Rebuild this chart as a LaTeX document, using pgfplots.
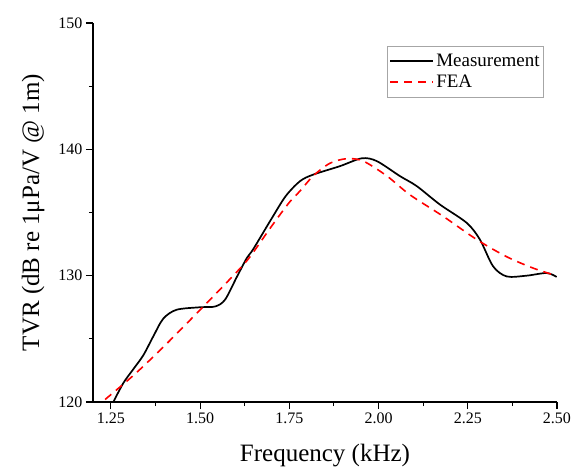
\documentclass[border=0pt]{standalone}
\usepackage{fontspec}
\setmainfont{Liberation Serif}
\setsansfont{Liberation Serif}
\usepackage{pgfplots}
\pgfplotsset{compat=1.18}
\begin{document}
\begin{tikzpicture}[font=\rmfamily]
\path[use as bounding box] (-93pt,-67pt) rectangle (481pt,402pt);
\begin{axis}[
  at={(0,0)}, anchor=south west,
  scale only axis, width=464pt, height=379pt,
  xmin=1.2, xmax=2.5, ymin=120, ymax=150,
  axis lines=left, axis line style={-, line width=1.1pt},
  tick align=outside, tick style={line width=1.1pt, black},
  major tick length=7pt, minor tick length=4pt,
  xtick={1.25,1.5,1.75,2,2.25,2.5}, minor x tick num=1,
  ytick={120,130,140,150}, minor y tick num=1,
  /pgf/number format/assume math mode=true,
  xticklabel style={/pgf/number format/.cd, fixed, fixed zerofill, precision=2},
  yticklabel style={/pgf/number format/fixed},
  ticklabel style={font=\rmfamily\fontsize{16}{19}\selectfont},
  xlabel={Frequency (kHz)},
  ylabel={TVR (dB re 1μPa/V @ 1m)},
  label style={font=\rmfamily\fontsize{25}{30}\selectfont},
  xlabel style={at={(axis description cs:0.5,-0.14)}, anchor=center},
  ylabel style={at={(axis description cs:-0.129,0.5)}, anchor=center, rotate=0},
  legend style={at={(axis description cs:0.972,0.939)}, anchor=north east,
    font=\rmfamily\fontsize{19}{22}\selectfont, draw=gray!70, line width=0.6pt,
    inner xsep=2pt, inner ysep=6pt, row sep=3pt},
  legend cell align=left,
  legend image code/.code={\draw[#1, line width=1.8pt] (0pt,0pt) -- (43pt,0pt);},
  clip=true,
]
\addplot[black, line width=1.7pt, smooth, tension=0.5] coordinates {
(1.257,120.0) (1.285,121.5) (1.313,122.6) (1.341,123.7) (1.369,125.2) (1.397,126.6)
(1.434,127.3) (1.50,127.5) (1.542,127.56) (1.570,128.1) (1.603,129.9) (1.631,131.4)
(1.649,132.1) (1.70,134.5) (1.74,136.3) (1.78,137.48) (1.817,138.0) (1.892,138.67)
(1.953,139.29) (1.995,139.07) (2.06,137.88) (2.107,137.09) (2.172,135.63) (2.247,134.18)
(2.284,132.86) (2.321,130.74) (2.359,129.94) (2.415,130.0) (2.471,130.21) (2.499,129.9)
};
\addlegendentry{Measurement}
\addplot[red, line width=1.6pt, dash pattern=on 8pt off 6pt, smooth, tension=0.5] coordinates {
(1.234,120.2) (1.313,122.1) (1.388,124.1) (1.462,126.2) (1.528,128.1) (1.603,130.3)
(1.64,131.5) (1.70,133.9) (1.75,135.8) (1.78,136.7) (1.817,137.9) (1.864,138.9)
(1.911,139.26) (1.957,139.07) (2.023,137.9) (2.088,136.4) (2.181,134.7) (2.275,132.86)
(2.359,131.5) (2.433,130.6) (2.489,130.08)
};
\addlegendentry{FEA}
\end{axis}
\end{tikzpicture}
\end{document}
